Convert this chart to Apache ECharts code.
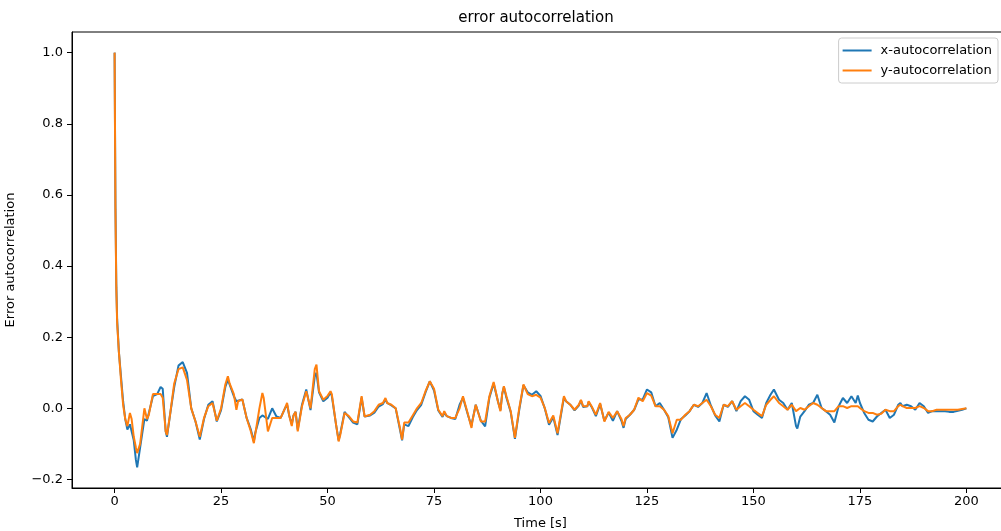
<!DOCTYPE html>
<html>
<head>
<meta charset="utf-8">
<script src="https://cdn.jsdelivr.net/npm/echarts@6/dist/echarts.min.js"></script>
<style>
  html, body { margin: 0; padding: 0; background: #fff; overflow: hidden; }
  #chart { width: 1001px; height: 531px; }
</style>
</head>
<body>
<div id="chart"></div>
<script>
// time [s]
const times = [
  0, 0.2, 0.4, 0.6, 1, 1.5, 2, 2.5, 3, 3.6,
  4, 4.5, 5, 5.3, 6, 7, 7.6, 8, 9, 10,
  10.8, 11.3, 12, 12.3, 13, 14, 15, 16, 17, 18,
  19, 20, 21, 22, 23, 24, 25, 26, 26.6, 27,
  28, 28.6, 29, 30, 31, 32, 32.7, 33, 34, 34.7,
  35, 36, 37, 38, 39, 40, 40.5, 41, 41.6, 42,
  42.5, 43, 44, 45, 46, 47, 47.4, 48, 49, 50,
  50.7, 51, 52, 52.6, 53, 54, 55, 56, 57, 58,
  58.7, 59, 60, 61, 62, 63, 63.6, 64, 65, 66,
  67, 67.5, 68, 69, 70, 71, 72, 73, 74, 74.2,
  75, 76, 77, 77.4, 78, 79, 80, 81, 81.8, 83,
  83.8, 84, 84.8, 86, 87, 88, 89, 90, 90.6, 91,
  91.4, 92, 93, 94, 95, 96, 97, 98, 99, 100,
  101, 102, 103, 104, 105, 105.5, 106, 107, 108, 109,
  109.5, 110, 111, 111.3, 112, 113, 114, 115, 116, 117,
  118, 119, 119.5, 120, 121, 122, 123, 124, 125, 126,
  127, 128, 129, 130, 131, 132, 133, 134, 135, 136,
  137, 138, 139, 140, 141, 142, 143, 144, 145, 146,
  147, 148, 149, 150, 151, 152, 153, 154, 154.8, 156,
  157, 158, 159, 160, 160.3, 161, 162, 163, 164, 165,
  165.3, 166, 167, 168, 169, 170, 171, 172, 173, 174,
  174.5, 175, 176, 177, 178, 179, 180, 181, 182, 183,
  184, 184.5, 185, 186, 187, 188, 189, 189.2, 190, 191,
  192, 193, 194, 195, 196, 197, 198, 199, 200
]

const xAutocorr = [
  1.0, 0.57, 0.35, 0.25, 0.16, 0.09, 0.02, -0.03, -0.06, -0.045,
  -0.05, -0.09, -0.145, -0.166, -0.11, -0.03, -0.035, -0.03, 0.034, 0.04,
  0.06, 0.055, -0.065, -0.08, -0.02, 0.06, 0.12, 0.13, 0.10, 0.0,
  -0.037, -0.088, -0.03, 0.01, 0.02, -0.037, -0.005, 0.06, 0.08, 0.067,
  0.034, 0.02, 0.02, 0.025, -0.027, -0.06, -0.093, -0.07, -0.027, -0.02,
  -0.018, -0.03, 0.0, -0.023, -0.027, 0.0, 0.01, -0.02, -0.045, -0.02,
  -0.01, -0.06, 0.01, 0.053, -0.005, 0.09, 0.10, 0.045, 0.02, 0.03,
  0.045, 0.035, -0.046, -0.09, -0.07, -0.01, -0.025, -0.04, -0.045, 0.03,
  -0.023, -0.027, -0.02, -0.012, 0.005, 0.012, 0.025, 0.015, 0.008, 0.0,
  -0.06, -0.09, -0.045, -0.05, -0.025, -0.005, 0.01, 0.045, 0.076, 0.08,
  0.05, -0.006, -0.024, -0.012, -0.022, -0.027, -0.03, 0.01, 0.03, -0.02,
  -0.05, -0.035, 0.01, -0.035, -0.051, 0.03, 0.07, 0.02, -0.005, 0.04,
  0.06, 0.03, -0.01, -0.086, -0.005, 0.065, 0.045, 0.038, 0.048, 0.035,
  0.0, -0.046, -0.025, -0.075, -0.005, 0.03, 0.02, 0.01, -0.006, 0.008,
  0.022, 0.004, 0.006, 0.018, 0.004, -0.022, 0.012, -0.035, -0.012, -0.035,
  -0.008, -0.035, -0.055, -0.03, -0.018, -0.004, 0.025, 0.025, 0.053, 0.045,
  0.006, 0.015, -0.004, -0.025, -0.083, -0.06, -0.03, -0.02, -0.008, 0.01,
  0.004, 0.015, 0.043, 0.008, -0.02, -0.037, 0.01, 0.004, 0.02, -0.008,
  0.02, 0.034, 0.024, -0.008, -0.018, -0.027, 0.015, 0.038, 0.053, 0.024,
  0.015, -0.004, 0.015, -0.05, -0.057, -0.023, -0.008, 0.01, 0.015, 0.038,
  0.043, 0.001, -0.008, -0.018, -0.04, 0.006, 0.029, 0.015, 0.034, 0.015,
  0.036, 0.015, -0.013, -0.032, -0.037, -0.023, -0.013, -0.004, -0.027, -0.018,
  0.01, 0.015, 0.006, 0.01, 0.006, -0.004, 0.015, 0.02, 0.006, -0.013,
  -0.008, -0.008, -0.008, -0.008, -0.01, -0.01, -0.007, -0.004, 0.0
]

const yAutocorr = [
  1.0, 0.56, 0.34, 0.24, 0.16, 0.08, 0.01, -0.03, -0.05, -0.013,
  -0.03, -0.08, -0.11, -0.126, -0.10, 0.0, -0.03, -0.02, 0.04, 0.04,
  0.04, 0.03, -0.065, -0.075, -0.02, 0.07, 0.11, 0.115, 0.08, 0.0,
  -0.037, -0.08, -0.027, 0.006, 0.015, -0.035, 0.0, 0.067, 0.09, 0.07,
  0.04, -0.004, 0.02, 0.025, -0.027, -0.065, -0.098, -0.075, 0.0, 0.043,
  0.03, -0.065, -0.027, -0.027, -0.027, 0.0, 0.015, -0.02, -0.05, -0.02,
  -0.01, -0.065, 0.006, 0.048, 0.0, 0.11, 0.123, 0.048, 0.024, 0.035,
  0.048, 0.04, -0.046, -0.093, -0.074, -0.013, -0.022, -0.037, -0.04, 0.034,
  -0.023, -0.027, -0.018, -0.008, 0.01, 0.015, 0.029, 0.015, 0.01, 0.0,
  -0.055, -0.088, -0.04, -0.04, -0.02, 0.0, 0.015, 0.048, 0.076, 0.08,
  0.055, -0.004, -0.022, -0.008, -0.022, -0.027, -0.027, 0.0, 0.034, -0.018,
  -0.055, -0.037, 0.01, -0.037, -0.037, 0.034, 0.074, 0.02, -0.008, 0.04,
  0.062, 0.034, -0.008, -0.083, 0.0, 0.067, 0.04, 0.034, 0.038, 0.03,
  0.001, -0.041, -0.02, -0.07, 0.0, 0.034, 0.02, 0.01, -0.004, 0.01,
  0.024, 0.006, 0.006, 0.02, 0.006, -0.018, 0.015, -0.037, -0.01, -0.027,
  -0.008, -0.03, -0.05, -0.027, -0.018, -0.004, 0.03, 0.02, 0.043, 0.036,
  0.006, 0.006, -0.004, -0.022, -0.07, -0.032, -0.032, -0.018, -0.008, 0.01,
  0.006, 0.015, 0.024, 0.006, -0.018, -0.027, 0.01, 0.006, 0.02, -0.004,
  0.006, 0.015, 0.006, -0.004, -0.013, -0.022, 0.01, 0.024, 0.034, 0.015,
  0.006, -0.004, 0.01, -0.008, -0.008, 0.001, -0.004, 0.006, 0.015, 0.01,
  0.008, 0.001, -0.008, -0.008, -0.008, 0.006, 0.006, 0.001, 0.006, 0.006,
  0.006, 0.001, -0.008, -0.013, -0.013, -0.018, -0.015, -0.004, -0.008, -0.008,
  0.006, 0.01, 0.006, 0.001, 0.001, 0.001, 0.006, 0.006, 0.001, -0.008,
  -0.008, -0.004, -0.004, -0.004, -0.004, -0.004, -0.004, -0.002, 0.0
]

const xTicks = [0, 25, 50, 75, 100, 125, 150, 175, 200]
const yTicks = [-0.2, 0, 0.2, 0.4, 0.6, 0.8, 1.0]

const font = 'DejaVu Sans'
const chart = echarts.init(document.getElementById('chart'), null, { renderer: 'canvas' })

const option = {
  animation: false,
  backgroundColor: '#fff',
  color: ['#1f77b4', '#ff7f0e'],
  title: {
    text: 'error autocorrelation',
    left: 536,
    top: 11,
    padding: 0,
    textAlign: 'center',
    textStyle: { fontFamily: font, fontSize: 15, fontWeight: 'normal', color: '#000' }
  },
  legend: {
    orient: 'vertical',
    right: 3,
    top: 38,
    padding: [6, 6, 6, 4],
    itemGap: 7,
    itemWidth: 29,
    itemHeight: 2,
    icon: 'rect',
    borderColor: '#ccc',
    borderWidth: 1,
    borderRadius: 3,
    backgroundColor: 'rgba(255,255,255,0.8)',
    textStyle: { fontFamily: font, fontSize: 13, color: '#000', padding: [0, 0, 0, 4] },
    data: ['x-autocorrelation', 'y-autocorrelation']
  },
  // the axes box runs a few pixels past the right edge of the picture
  grid: {
    left: 72,
    right: -8,
    top: 32,
    bottom: 43,
    outerBoundsMode: 'none',
    show: true,
    borderColor: '#000',
    borderWidth: 1,
    backgroundColor: 'transparent'
  },
  xAxis: {
    type: 'value',
    min: -10,
    max: 210,
    name: 'Time [s]',
    nameLocation: 'middle',
    nameGap: 29,
    nameTextStyle: { fontFamily: font, fontSize: 13, color: '#000' },
    axisLine: { show: true, onZero: false, lineStyle: { color: '#000' } },
    axisTick: { show: true, length: 5, customValues: xTicks, lineStyle: { color: '#000' } },
    axisLabel: { customValues: xTicks, fontFamily: font, fontSize: 13, color: '#000', margin: 7 },
    splitLine: { show: false }
  },
  yAxis: {
    type: 'value',
    min: -0.224,
    max: 1.058,
    name: 'Error autocorrelation',
    nameLocation: 'middle',
    nameGap: 55,
    nameTextStyle: { fontFamily: font, fontSize: 13, color: '#000' },
    axisLine: { show: true, onZero: false, lineStyle: { color: '#000' } },
    axisTick: { show: true, length: 5, customValues: yTicks, lineStyle: { color: '#000' } },
    axisLabel: {
      customValues: yTicks,
      fontFamily: font,
      fontSize: 13,
      color: '#000',
      margin: 9,
      formatter: v => v.toFixed(1).replace('-', '\u2212')
    },
    splitLine: { show: false }
  },
  series: [
    {
      name: 'x-autocorrelation',
      type: 'line',
      showSymbol: false,
      lineStyle: { width: 2 },
      data: times.map((t, i) => [t, xAutocorr[i]])
    },
    {
      name: 'y-autocorrelation',
      type: 'line',
      showSymbol: false,
      lineStyle: { width: 2 },
      data: times.map((t, i) => [t, yAutocorr[i]])
    }
  ]
}

chart.setOption(option)
</script>
</body>
</html>
